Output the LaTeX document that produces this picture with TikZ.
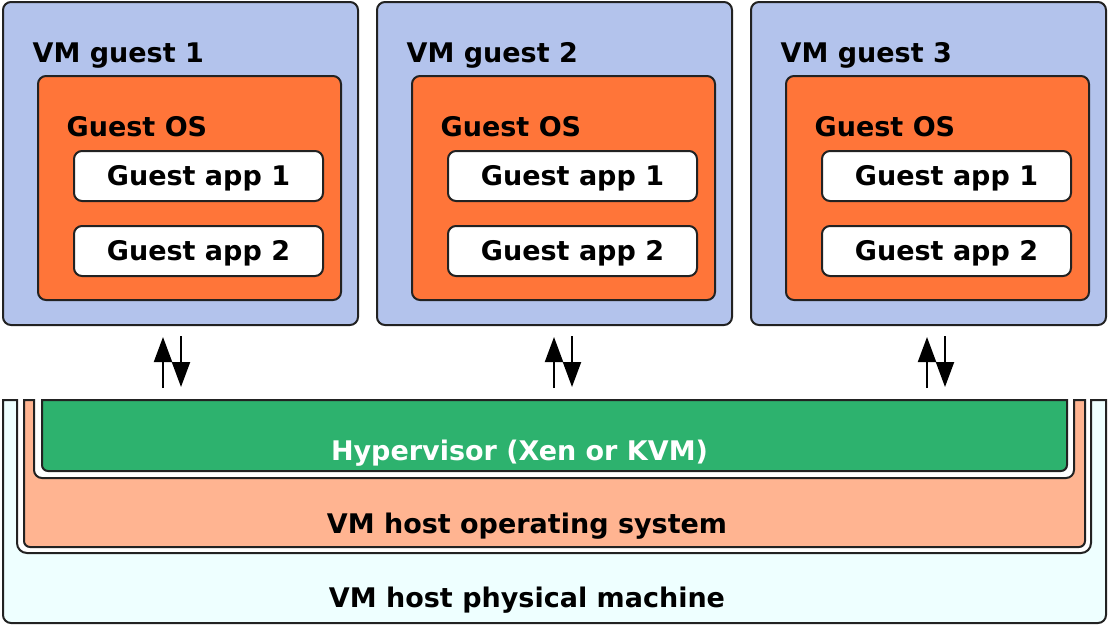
\documentclass[tikz,border=0pt]{standalone}
\usepackage{fontspec}
\setmainfont{DejaVu Sans}
\usetikzlibrary{arrows.meta}
\definecolor{vmblue}{HTML}{B3C3EC}
\definecolor{osorange}{HTML}{FF7539}
\definecolor{hvgreen}{HTML}{2DB26E}
\definecolor{hostsalmon}{HTML}{FFB491}
\definecolor{physcyan}{HTML}{EEFFFF}
\definecolor{edge}{HTML}{222222}
\tikzset{
  lbl/.style={font=\fontsize{27}{30}\selectfont\bfseries, inner sep=0pt},
  box/.style={draw=edge, line width=2pt, inner sep=0pt, outer sep=0pt, rounded corners=8pt},
  vmbox/.style={box, fill=vmblue, minimum width=355pt, minimum height=323pt},
  osbox/.style={box, fill=osorange, minimum width=303pt, minimum height=224pt},
  appbox/.style={box, fill=white, minimum width=249pt, minimum height=50pt},
  arr/.style={draw=black, line width=2pt, -{Triangle[width=18pt,length=25pt]}},
  ushape/.style={draw=edge, line width=2pt},
}
\begin{document}
\begin{tikzpicture}[x=1pt,y=-1pt]
\useasboundingbox (0,0) rectangle (1108,625);
% guests
\foreach \i/\o in {1/0,2/374,3/748}{
  \node[vmbox] (vm\i) at (180.5+\o,163.5) {};
  \node[lbl, anchor=base west] (vmt\i) at (32.5+\o,62) {VM guest \i};
  \node[osbox] (os\i) at (189.5+\o,188) {};
  \node[lbl, anchor=base west] (ost\i) at (66.5+\o,136) {Guest OS};
  \node[appbox] (appa\i) at (198.5+\o,176) {};
  \node[lbl, anchor=base] (appat\i) at (198.5+\o,185) {Guest app 1};
  \node[appbox] (appb\i) at (198.5+\o,251) {};
  \node[lbl, anchor=base] (appbt\i) at (198.5+\o,260) {Guest app 2};
}
% physical machine (U shape)
\draw[ushape, fill=physcyan] (10,400) [sharp corners] -- (3,400) [rounded corners=8pt] -- (3,623) -- (1106,623) [sharp corners] -- (1106,400) -- (1091,400) [rounded corners=10pt] -- (1091,553) -- (17,553) [sharp corners] -- (17,400) -- cycle;
% host OS (U shape)
\draw[ushape, fill=hostsalmon] (29,400) [sharp corners] -- (24,400) [rounded corners=6pt] -- (24,547) -- (1085,547) [sharp corners] -- (1085,400) -- (1074,400) [rounded corners=8pt] -- (1074,478) -- (34,478) [sharp corners] -- (34,400) -- cycle;
% hypervisor
\draw[ushape, fill=hvgreen] (42,400) [rounded corners=6pt] -- (42,471) -- (1067,471) [sharp corners] -- (1067,400) -- cycle;
\node[lbl, anchor=base, text=white] (hv) at (519.5,460) {Hypervisor (Xen or KVM)};
\node[lbl, anchor=base] (hostos) at (527,533) {VM host operating system};
\node[lbl, anchor=base] (phys) at (527,607) {VM host physical machine};
% arrows
\foreach \i/\u/\d in {1/163/181,2/554/572,3/927/945}{
  \coordinate (us\i) at (\u,388);
  \coordinate (ue\i) at (\u,337);
  \coordinate (ds\i) at (\d,336);
  \coordinate (de\i) at (\d,387);
  \draw[arr] (us\i) -- (ue\i);
  \draw[arr] (ds\i) -- (de\i);
}
\end{tikzpicture}
\end{document}
